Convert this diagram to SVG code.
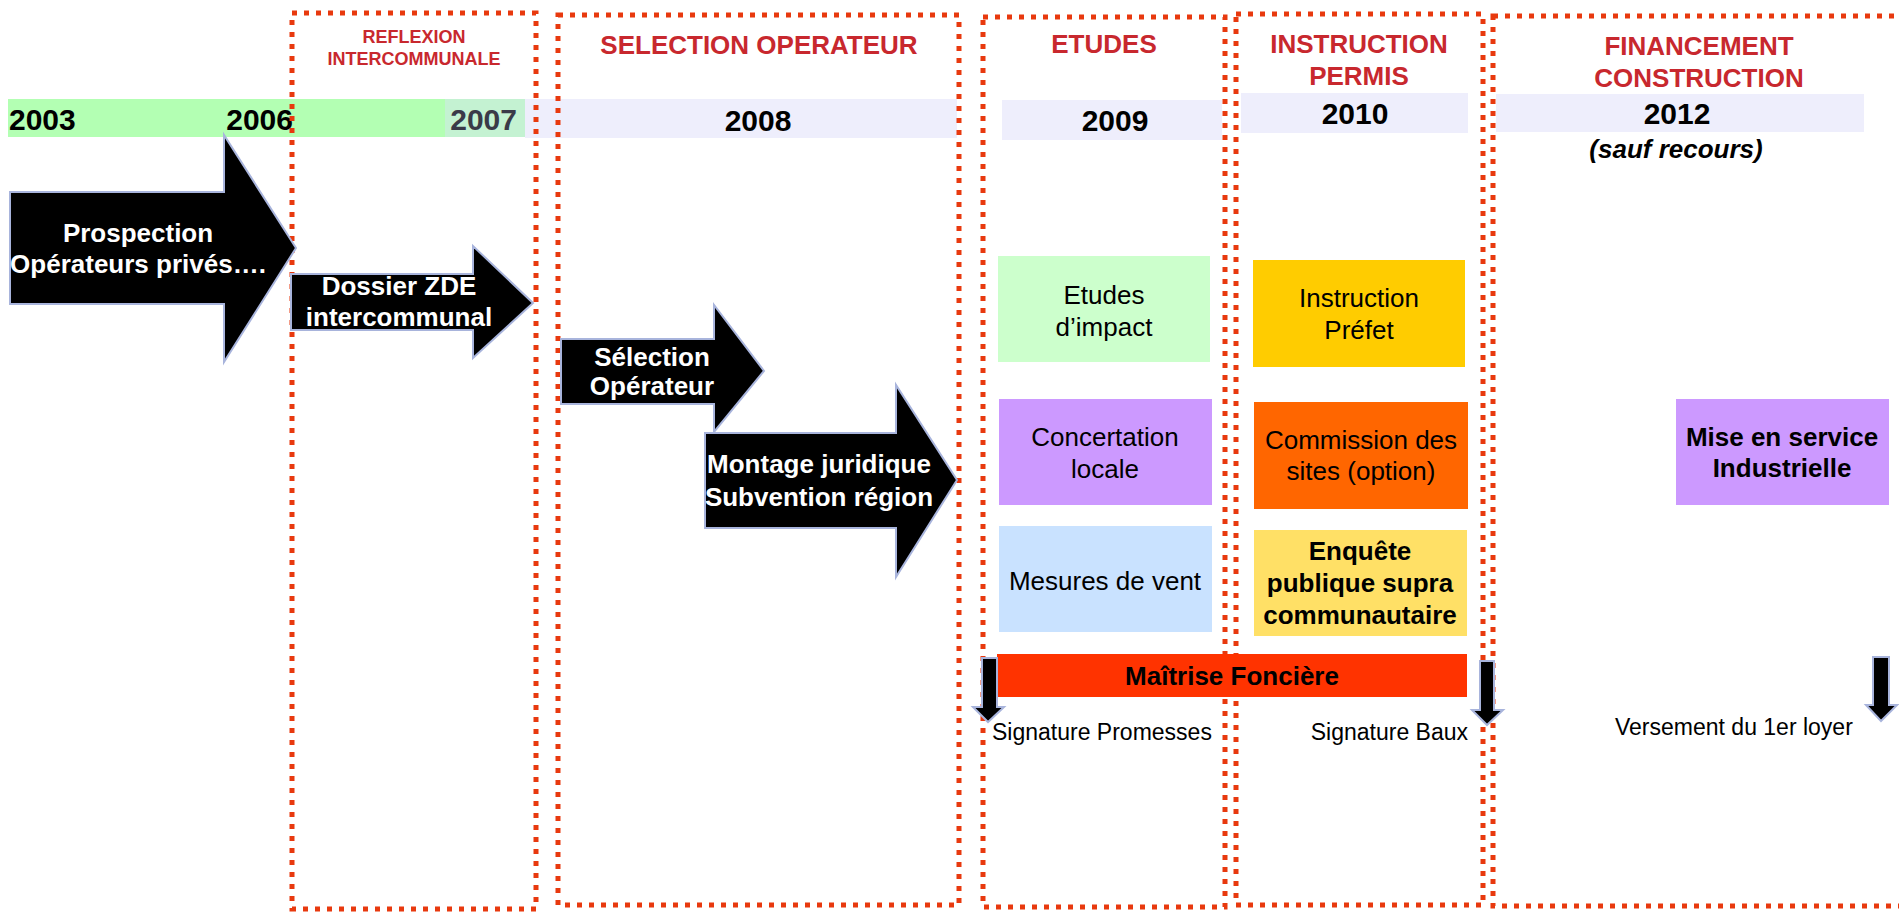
<svg xmlns="http://www.w3.org/2000/svg" width="1899" height="913" viewBox="0 0 1899 913">
<style>
text{font-family:"Liberation Sans",Arial,sans-serif}
.frame{fill:none;stroke:#E8390E;stroke-width:5;stroke-dasharray:5 7}
.hdr{fill:#C8282E;font-weight:bold;text-anchor:middle}
.yr{font-weight:bold;font-size:30px;fill:#000}
.arr{fill:#000;stroke:#A8B4DC;stroke-width:2}
.at{fill:#fff;font-weight:bold;font-size:26px;text-anchor:middle}
.bt{font-size:26px;text-anchor:middle;fill:#000}
.bb{font-size:26px;text-anchor:middle;font-weight:bold;fill:#000}
.sig{font-size:23px;fill:#000}
</style>

<g id="timeline">
<rect x="8" y="99" width="437" height="38" fill="#B3FFB3"/>
<rect x="445" y="99" width="80" height="38" fill="#C4F2D2"/>
<rect x="525" y="99" width="432" height="39" fill="#EEEEFC"/>
<rect x="1002" y="100" width="220" height="40" fill="#EEEEFC"/>
<rect x="1241" y="93" width="227" height="40" fill="#EEEEFC"/>
<rect x="1496" y="94" width="368" height="38" fill="#EEEEFC"/>
<text class="yr" x="9" y="130">2003</text>
<text class="yr" x="293" y="130" text-anchor="end">2006</text>
<text class="yr" x="517" y="130" text-anchor="end" fill="#3A3A48" style="fill:#3A3A48">2007</text>
<text class="yr" x="758" y="131" text-anchor="middle">2008</text>
<text class="yr" x="1115" y="131" text-anchor="middle">2009</text>
<text class="yr" x="1355" y="124" text-anchor="middle">2010</text>
<text class="yr" x="1677" y="124" text-anchor="middle">2012</text>
<text x="1676" y="158" text-anchor="middle" font-size="26" font-weight="bold" font-style="italic">(sauf recours)</text>
</g>

<g id="phase-reflexion">
<rect class="frame" x="292" y="13" width="244" height="896"/>
<text class="hdr" x="414" y="43" font-size="18">REFLEXION</text>
<text class="hdr" x="414" y="65" font-size="18">INTERCOMMUNALE</text>
</g>
<g id="phase-selection">
<rect class="frame" x="558" y="15" width="401" height="890"/>
<text class="hdr" x="759" y="54" font-size="26">SELECTION OPERATEUR</text>
</g>
<g id="phase-etudes">
<rect class="frame" x="983" y="17" width="242" height="890"/>
<text class="hdr" x="1104" y="53" font-size="26">ETUDES</text>
</g>
<g id="phase-instruction">
<rect class="frame" x="1236" y="14" width="247" height="891"/>
<text class="hdr" x="1359" y="53" font-size="26">INSTRUCTION</text>
<text class="hdr" x="1359" y="85" font-size="26">PERMIS</text>
</g>
<g id="phase-financement">
<rect class="frame" x="1493" y="16" width="420" height="890"/>
<text class="hdr" x="1699" y="55" font-size="26">FINANCEMENT</text>
<text class="hdr" x="1699" y="87" font-size="26">CONSTRUCTION</text>
</g>

<g id="arrow-prospection">
<polygon class="arr" points="10,192 224,192 224,135 296,248 224,362 224,304 10,304"/>
<text class="at" x="138" y="242">Prospection</text>
<text class="at" x="138" y="273">Opérateurs privés….</text>
</g>
<g id="arrow-dossier">
<polygon class="arr" points="291,274 473,274 473,246 533,303 473,358 473,330 291,330"/>
<text class="at" x="399" y="295">Dossier ZDE</text>
<text class="at" x="399" y="326">intercommunal</text>
</g>
<g id="arrow-selection">
<polygon class="arr" points="561,339 714,339 714,305 764,371 714,432 714,404 561,404"/>
<text class="at" x="652" y="366">Sélection</text>
<text class="at" x="652" y="395">Opérateur</text>
</g>
<g id="arrow-montage">
<polygon class="arr" points="705,433 896,433 896,385 957,480 896,577 896,528 705,528"/>
<text class="at" x="819" y="473">Montage juridique</text>
<text class="at" x="819" y="506">Subvention région</text>
</g>

<g id="etudes-impact">
<rect x="998" y="256" width="212" height="106" fill="#CCFFCC"/>
<text class="bt" x="1104" y="304">Etudes</text>
<text class="bt" x="1104" y="336">d’impact</text>
</g>
<g id="instruction-prefet">
<rect x="1253" y="260" width="212" height="107" fill="#FFCC00"/>
<text class="bt" x="1359" y="307">Instruction</text>
<text class="bt" x="1359" y="339">Préfet</text>
</g>
<g id="concertation">
<rect x="999" y="399" width="213" height="106" fill="#CC99FF"/>
<text class="bt" x="1105" y="446">Concertation</text>
<text class="bt" x="1105" y="478">locale</text>
</g>
<g id="commission">
<rect x="1254" y="402" width="214" height="107" fill="#FF6600"/>
<text class="bt" x="1361" y="449">Commission des</text>
<text class="bt" x="1361" y="480">sites (option)</text>
</g>
<g id="mise-en-service">
<rect x="1676" y="399" width="213" height="106" fill="#CC99FF"/>
<text class="bb" x="1782" y="446">Mise en service</text>
<text class="bb" x="1782" y="477">Industrielle</text>
</g>
<g id="mesures-vent">
<rect x="999" y="526" width="213" height="106" fill="#C9E2FF"/>
<text class="bt" x="1105" y="590">Mesures de vent</text>
</g>
<g id="enquete">
<rect x="1254" y="530" width="213" height="106" fill="#FFE066"/>
<text class="bb" x="1360" y="560">Enquête</text>
<text class="bb" x="1360" y="592">publique supra</text>
<text class="bb" x="1360" y="624">communautaire</text>
</g>
<g id="maitrise-fonciere">
<rect x="997" y="654" width="470" height="43" fill="#FF3300"/>
<text class="bb" x="1232" y="685">Maîtrise Foncière</text>
</g>

<g id="connectors">
<polygon class="arr" points="982,658 997,658 997,707 1004,707 988,722 973,707 982,707"/>
<polygon class="arr" points="1480,661 1494,661 1494,710 1503,710 1487,725 1472,710 1480,710"/>
<polygon class="arr" points="1873,657 1889,657 1889,705 1897,705 1881,721 1866,705 1873,705"/>
</g>

<g id="milestones">
<text class="sig" x="992" y="740">Signature Promesses</text>
<text class="sig" x="1468" y="740" text-anchor="end">Signature Baux</text>
<text class="sig" x="1615" y="735">Versement du 1er loyer</text>
</g>
</svg>
